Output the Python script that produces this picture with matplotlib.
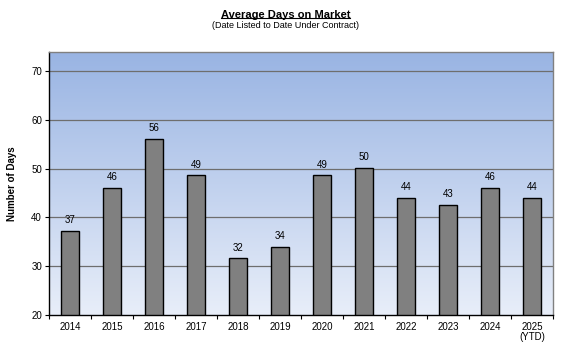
import matplotlib
matplotlib.use("Agg")
import matplotlib.pyplot as plt
import numpy as np
from matplotlib.colors import LinearSegmentedColormap

plt.rcParams['font.family'] = ['Liberation Sans', 'DejaVu Sans']

years = ["2014", "2015", "2016", "2017", "2018", "2019", "2020", "2021", "2022", "2023", "2024", "2025\n(YTD)"]
days = [37.3, 46.0, 56.1, 48.6, 31.6, 34.0, 48.6, 50.1, 44.0, 42.6, 46.0, 44.0]
yticks = [20, 30, 40, 50, 60, 70]

fig = plt.figure(figsize=(5.71, 3.61), dpi=100)
ax = fig.add_axes([49/571, 1-315/361, 504/571, 263/361])

x = np.arange(len(years))
ax.set_xlim(-0.5, len(years)-0.5)
ax.set_ylim(20, 73.9)

cmap = LinearSegmentedColormap.from_list("bg", ["#E8EEF9", "#99B4E3"])
grad = np.linspace(0, 1, 256).reshape(-1, 1)
ax.imshow(grad, aspect='auto', cmap=cmap, origin='lower',
          extent=[-0.5, len(years)-0.5, 20, 73.9], zorder=0)

for t in yticks[1:]:
    ax.axhline(t, color='#6E6E6E', lw=0.9, zorder=1)

bars = ax.bar(x, days, width=0.42, color='#808080', edgecolor='black', lw=1.0, zorder=2)
for xi, v in zip(x, days):
    ax.text(xi, v + 1.2, f"{v:.0f}", ha='center', va='bottom', fontsize=7, zorder=3)

ax.set_xticks(x)
ax.set_xticklabels(years, fontsize=7, linespacing=0.95)
ax.set_xticks(np.arange(-0.5, len(years)), minor=True)
ax.tick_params(axis='x', which='major', length=0, pad=5)
ax.tick_params(axis='x', which='minor', length=3, width=0.8, direction='out')
ax.set_yticks(yticks)
ax.set_yticklabels([str(t) for t in yticks], fontsize=7)
ax.tick_params(axis='y', length=3, width=0.8, direction='out', pad=2)

for s in ['top', 'right']:
    ax.spines[s].set_color('#808080')
    ax.spines[s].set_linewidth(1.0)
for s in ['left', 'bottom']:
    ax.spines[s].set_color('black')
    ax.spines[s].set_linewidth(1.0)

ax.set_ylabel("Number of Days", fontsize=7, fontweight='bold', labelpad=10)

t = fig.text(0.5, 1-15/361, "Average Days on Market", ha='center', va='center',
             fontsize=8, fontweight='bold')
fig.canvas.draw()
bb = t.get_window_extent()
inv = fig.transFigure.inverted()
(x0, y0), (x1, y1) = inv.transform([[bb.x0, bb.y0], [bb.x1, bb.y1]])
fig.add_artist(plt.Line2D([x0, x1], [y0 + 0.006, y0 + 0.006], color='black', lw=0.8))
fig.text(0.5, 1-26/361, "(Date Listed to Date Under Contract)", ha='center', va='center', fontsize=6.5)

fig.savefig("out.png", dpi=100)
